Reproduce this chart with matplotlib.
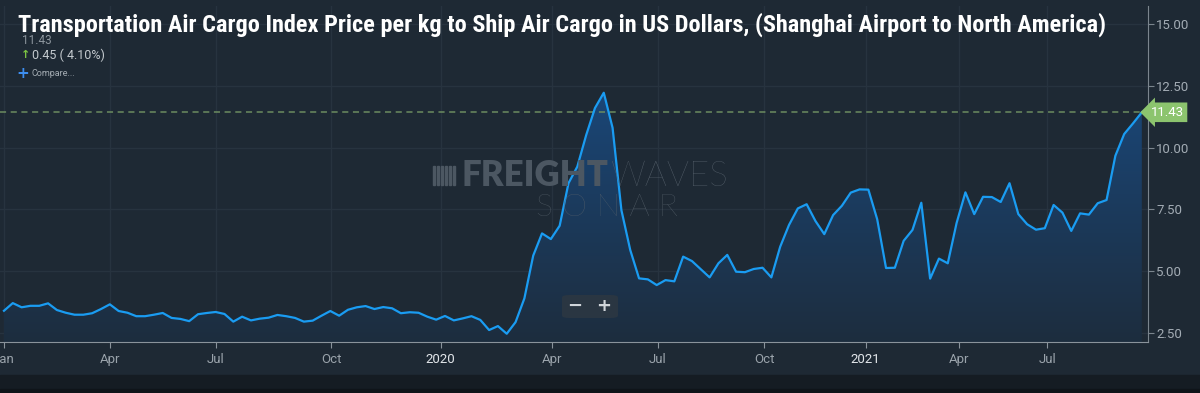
import numpy as np
import matplotlib
matplotlib.use("Agg")
import matplotlib.pyplot as plt
from matplotlib.colors import LinearSegmentedColormap
from matplotlib.patches import FancyBboxPatch, Rectangle
import matplotlib.transforms as mtransforms

# weekly index values (USD per kg)
prices = [
    3.40, 3.71, 3.54, 3.60, 3.60, 3.70, 3.43, 3.32, 3.24, 3.24,
    3.30, 3.47, 3.66, 3.39, 3.32, 3.18, 3.18, 3.24, 3.31, 3.11,
    3.07, 2.98, 3.26, 3.31, 3.35, 3.27, 2.96, 3.16, 3.01, 3.08,
    3.12, 3.23, 3.18, 3.11, 2.96, 3.00, 3.20, 3.39, 3.20, 3.44,
    3.54, 3.59, 3.47, 3.55, 3.50, 3.30, 3.34, 3.32, 3.16, 3.04,
    3.19, 3.01, 3.09, 3.18, 3.03, 2.62, 2.78, 2.47, 2.94, 3.90,
    5.63, 6.53, 6.30, 6.84, 8.56, 9.23, 10.50, 11.60, 12.22, 10.80,
    7.47, 5.86, 4.71, 4.67, 4.44, 4.64, 4.59, 5.59, 5.41, 5.08,
    4.75, 5.32, 5.66, 4.98, 4.96, 5.09, 5.14, 4.75, 5.99, 6.87,
    7.54, 7.71, 7.03, 6.50, 7.27, 7.65, 8.18, 8.31, 8.30, 7.10,
    5.13, 5.14, 6.23, 6.67, 7.77, 4.70, 5.51, 5.32, 6.95, 8.19,
    7.31, 8.01, 8.00, 7.80, 8.56, 7.31, 6.90, 6.68, 6.74, 7.68,
    7.37, 6.63, 7.34, 7.29, 7.75, 7.88, 9.67, 10.55, 10.98, 11.43,
]

# where each month label falls along the point index
month_ticks = [0, 12, 24, 37.1, 49.5, 62.1, 74.1, 86.2, 97.7, 108.3, 118.3]
month_labels = ["Jan", "Apr", "Jul", "Oct", "2020", "Apr", "Jul", "Oct", "2021", "Apr", "Jul"]
price_ticks = [2.5, 5.0, 7.5, 10.0, 12.5, 15.0]

last_price = 11.43
change = 0.45
change_pct = 4.10

title = ("Transportation Air Cargo Index Price per kg to Ship Air Cargo in US Dollars, "
         "(Shanghai Airport to North America)")

bg = "#1e2934"
W, H = 1200, 393

fig = plt.figure(figsize=(W / 100, H / 100), dpi=100, facecolor=bg)
ax = fig.add_axes([0, 51 / H, 1148 / W, 336 / H])
ax.set_facecolor(bg)

# darker strip at the bottom of the panel
fig.patches.append(Rectangle((0, 0), 1, 18 / H, transform=fig.transFigure,
                             color="#151c23", zorder=0))
fig.patches.append(Rectangle((0, 0), 1, 4 / H, transform=fig.transFigure,
                             color="#0f1419", zorder=0))

x = np.arange(len(prices))
ymin, ymax = 2.136, 15.73

# grid
for t in price_ticks:
    ax.axhline(t, color="#27333f", lw=1, zorder=0)
for t in month_ticks:
    ax.axvline(t, color="#27333f", lw=1, zorder=0)

# gradient fill under the line
poly = ax.fill_between(x, prices, ymin, color="none", lw=0)
cmap = LinearSegmentedColormap.from_list("fill", ["#1d2d3e", "#1a4779"])
grad = np.linspace(0, 1, 256).reshape(-1, 1)
im = ax.imshow(grad, extent=[x[0], x[-1], ymin, 12.5], origin="lower",
               aspect="auto", cmap=cmap, zorder=1)
im.set_clip_path(poly.get_paths()[0], transform=ax.transData)
ax.set_xlim(-0.45, 129.7)
ax.set_ylim(ymin, ymax)

ax.plot(x, prices, color="#1a9cf2", lw=1.6, zorder=3)

# last price dashed line
ax.axhline(last_price, color="#6b8c60", lw=1.1, ls=(0, (4, 3)), zorder=2)

# spines and ticks
for s in ["left", "top"]:
    ax.spines[s].set_visible(False)
ax.spines["right"].set_color("#7b858e")
ax.spines["bottom"].set_color("#8a939b")
ax.yaxis.tick_right()
ax.set_yticks(price_ticks)
ax.set_yticklabels([f"{t:.2f}" for t in price_ticks])
ax.set_xticks(month_ticks)
ax.set_xticklabels(month_labels)
ax.tick_params(axis="y", colors="#7b858e", labelcolor="#a3acb4", length=4,
               labelsize=9.5, pad=2)
ax.tick_params(axis="x", colors="#8a939b", labelcolor="#9aa3ab", length=4,
               labelsize=9.5, pad=4)
for lbl in ax.get_xticklabels() + ax.get_yticklabels():
    lbl.set_family("Roboto")
for lbl in ax.get_xticklabels():
    if lbl.get_text().isdigit():
        lbl.set_color("#e2e6ea")

# last value tag
tag_tr = mtransforms.blended_transform_factory(ax.transAxes, ax.transData)
ax.text(1.0 + 3 / 1148, last_price, f"{last_price:.2f}", transform=tag_tr,
        color="white", fontsize=9.5, family="Roboto", ha="left", va="center",
        bbox=dict(boxstyle="larrow,pad=0.25", fc="#8cc46e", ec="none"),
        clip_on=False, zorder=5)

# zoom buttons
fig.patches.append(FancyBboxPatch((562 / W, 1 - 318 / H), 56 / W, 23 / H,
                                  boxstyle="round,pad=0,rounding_size=0.006",
                                  transform=fig.transFigure, fc="#2a3642",
                                  ec="none", zorder=4))
fig.text(575 / W, 1 - 306 / H, "\u2212", color="#d0d5da", fontsize=13,
         fontweight="bold", ha="center", va="center", zorder=5)
fig.text(604 / W, 1 - 306 / H, "+", color="#d0d5da", fontsize=13,
         fontweight="bold", ha="center", va="center", zorder=5)

# header
t_title = fig.text(18 / W, 1 - 25 / H, title, color="white", fontsize=17,
                   fontweight="bold", fontstretch="condensed",
                   family=["Roboto Condensed", "DejaVu Sans"],
                   ha="left", va="center")
fig.text(22 / W, 1 - 40 / H, f"{last_price:.2f}", color="#8c959d", fontsize=8.5,
         family="Roboto", ha="left", va="center")
fig.text(21 / W, 1 - 55 / H, "\u2191", color="#7cc443", fontsize=8,
         fontweight="bold", ha="left", va="center")
fig.text(32 / W, 1 - 55 / H, f"{change:.2f} ( {change_pct:.2f}%)", color="#c3c9ce",
         fontsize=9, family="Roboto", ha="left", va="center")
fig.text(16 / W, 1 - 74 / H, "+", color="#3d8ef0", fontsize=11, fontweight="bold",
         ha="left", va="center")
fig.text(31 / W, 1 - 74 / H, "Compare...", color="#a6aeb5", fontsize=6.5,
         family="Roboto", ha="left", va="center")

# watermark
wm = "#4c5762"
for i in range(6):
    fig.patches.append(Rectangle(((433 + i * 4) / W, 1 - 185 / H), 2 / W, 19 / H,
                                 transform=fig.transFigure, color=wm))
t_fr = fig.text(462 / W, 1 - 176 / H, "FREIGHT", color=wm, fontsize=25,
                fontweight="heavy", family="Lato", va="center", ha="left")
t_wv = fig.text(625 / W, 1 - 176 / H, "WAVES", color="#5a6570", fontsize=25,
                fontweight="light", family="Lato", va="center", ha="left")
fig.text(607 / W, 1 - 207 / H, "S O N A R", color="#56616b", fontsize=23,
         fontweight="light", family="Lato", va="center", ha="center")

# fit title and watermark pieces to the widths seen in the reference
fig.canvas.draw()
r = fig.canvas.get_renderer()
w = t_title.get_window_extent(r).width
t_title.set_fontsize(17 * 1092 / w)
fr_right = t_fr.get_window_extent(r).x1
t_wv.set_x((fr_right + 2) / W)

fig.savefig("out.png", dpi=100, facecolor=bg)
